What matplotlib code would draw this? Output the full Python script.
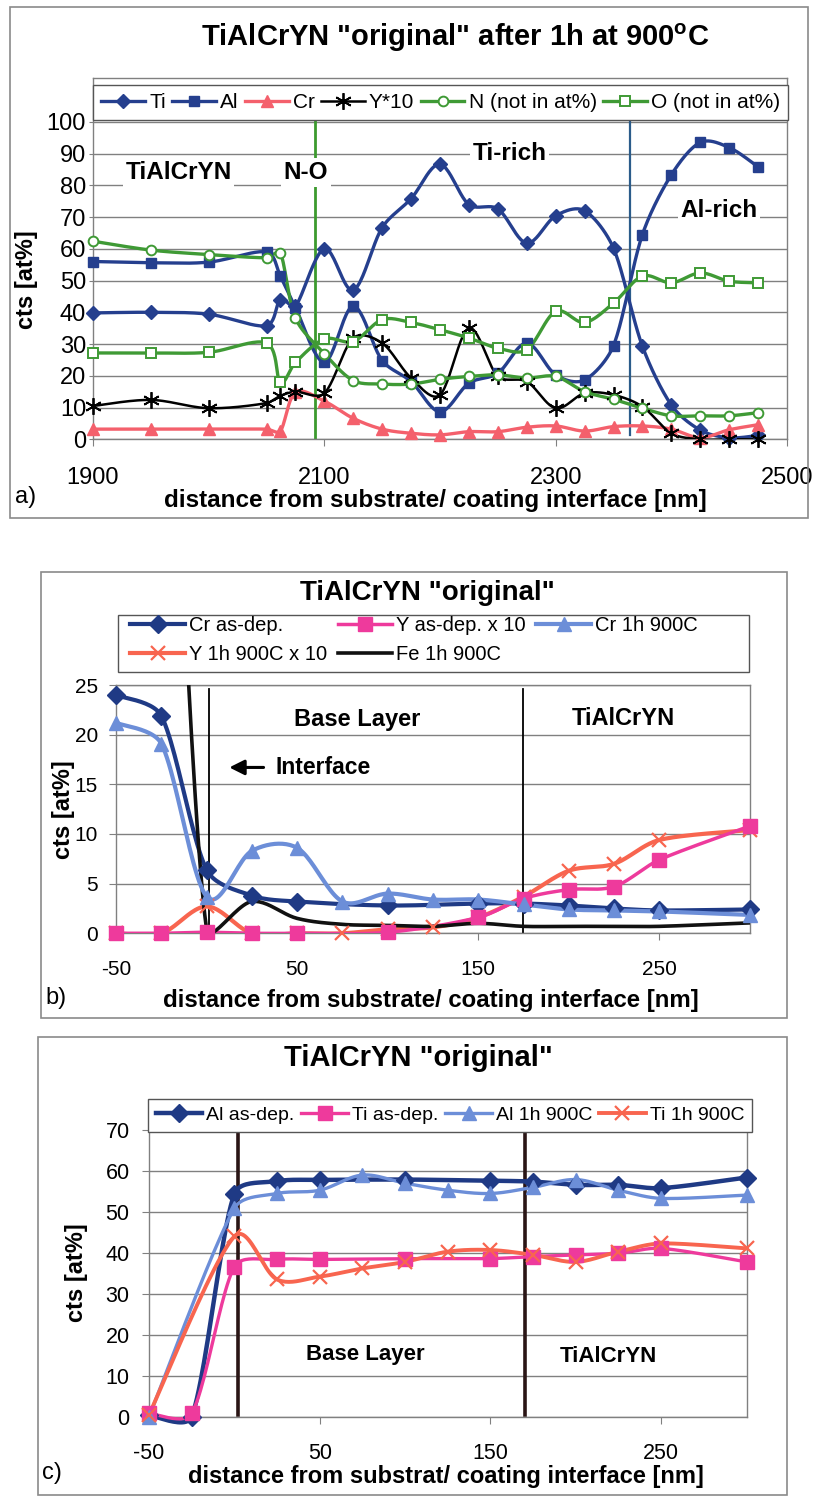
import numpy as np
import matplotlib
matplotlib.use("Agg")
import matplotlib.pyplot as plt
from matplotlib.lines import Line2D
from matplotlib.patches import Rectangle

plt.rcParams['font.family'] = ['Liberation Sans', 'DejaVu Sans']
plt.rcParams['axes.unicode_minus'] = False

# ---- panel a: after 1h at 900C ----
xa = [1900, 1950, 2000, 2050, 2062, 2075, 2100, 2125, 2150, 2175, 2200, 2225,
      2250, 2275, 2300, 2325, 2350, 2375, 2400, 2425, 2450, 2475]
ti_a = [39.8, 40.0, 39.4, 35.8, 44.0, 41.9, 60.0, 47.0, 66.7, 75.8, 86.6, 73.9,
        72.6, 61.8, 70.4, 72.0, 60.2, 29.3, 10.8, 2.9, 0.5, 1.2]
al_a = [56.0, 55.6, 55.8, 59.0, 51.4, 41.5, 24.3, 41.9, 24.8, 18.2, 8.7, 17.7,
        20.8, 30.3, 20.3, 18.7, 29.5, 64.5, 83.3, 93.5, 91.9, 85.8]
cr_a = [3.2, 3.2, 3.2, 3.2, 2.6, 14.8, 12.0, 6.6, 3.2, 1.9, 1.4, 2.4,
        2.4, 3.8, 4.2, 2.6, 4.0, 4.2, 3.2, 0.5, 3.0, 4.6]
y10_a = [10.5, 12.4, 9.8, 11.4, 13.7, 15.0, 14.5, 31.9, 30.3, 19.3, 14.0, 35.0,
         19.8, 18.2, 9.8, 14.5, 14.0, 10.3, 1.9, 0.0, 0.0, 0.0]
n_a = [62.4, 59.6, 58.2, 57.2, 58.7, 38.2, 27.0, 18.5, 17.4, 17.4, 18.9, 19.8,
       20.3, 19.3, 19.8, 15.0, 12.6, 9.8, 7.4, 7.4, 7.4, 8.4]
o_a = [27.2, 27.2, 27.4, 30.3, 17.9, 24.2, 31.6, 30.8, 37.7, 36.8, 34.5, 31.9,
       28.7, 28.2, 40.3, 36.8, 42.9, 51.4, 49.3, 52.4, 49.8, 49.3]
lines_a = [2092, 2364]

# ---- panel b: Cr / Y / Fe ----
xb_dep = [-50, -25, 0, 25, 50, 100, 150, 175, 200, 225, 250, 300]
cr_dep_b = [24.0, 21.9, 6.4, 3.8, 3.2, 2.8, 3.0, 3.0, 2.8, 2.5, 2.3, 2.4]
y_dep_b = [0.0, 0.0, 0.1, 0.0, 0.0, 0.1, 1.6, 3.5, 4.4, 4.7, 7.4, 10.8]
xb_h = [-50, -25, 0, 25, 50, 75, 100, 125, 150, 175, 200, 225, 250, 300]
cr_h_b = [21.2, 19.1, 3.7, 8.3, 8.6, 3.2, 4.0, 3.4, 3.4, 2.9, 2.4, 2.3, 2.2, 1.85]
y_h_b = [0.0, 0.0, 2.7, 0.0, 0.0, 0.0, 0.4, 0.6, 1.6, 3.7, 6.3, 7.0, 9.4, 10.4]
fe_h_b = [75.0, 68.0, 0.4, 3.2, 1.5, 0.9, 0.8, 0.7, 1.0, 0.7, 0.7, 0.7, 0.7, 1.05]
lines_b = [1.5, 174.5]

# ---- panel c: Al / Ti ----
xc_dep = [-50, -25, 0, 25, 50, 100, 150, 175, 200, 225, 250, 300]
al_dep_c = [0.3, 0.0, 54.4, 57.5, 57.8, 57.9, 57.6, 57.4, 56.6, 56.6, 55.8, 58.4]
ti_dep_c = [0.8, 0.8, 36.6, 38.4, 38.4, 38.6, 38.6, 39.1, 39.5, 39.9, 41.1, 37.8]
xc_h = [-50, 0, 25, 50, 75, 100, 125, 150, 175, 200, 225, 250, 300]
al_h_c = [0.0, 50.9, 54.5, 55.3, 59.0, 57.0, 55.3, 54.5, 56.0, 57.9, 55.3, 53.3, 54.1]
ti_h_c = [0.5, 44.0, 33.5, 34.2, 36.2, 37.8, 40.3, 40.7, 39.5, 37.8, 40.3, 42.3, 41.1]
lines_c = [2, 170.5]

W, H = 813, 1497
NAVY_A, RED_A, GREEN = '#253F8E', '#F4606C', '#3F9A35'
NAVY, MAGENTA, LBLUE, SALMON = '#1F3A85', '#EE3A9C', '#6C8ED8', '#F8654F'
GRID = '#808080'


def smooth(ax, x, y, n=24):
    # Excel-like smoothed line, done in pixel space, tangents limited by chord length
    p = ax.transData.transform(np.column_stack([x, y]).astype(float))
    p = np.vstack([p[0], p, p[-1]])
    t = np.linspace(0, 1, n, endpoint=False)[:, None]
    out = []
    for i in range(1, len(p) - 2):
        p0, p1, p2, p3 = p[i - 1], p[i], p[i + 1], p[i + 2]
        d = np.hypot(*(p2 - p1))
        h1 = np.hypot(*(p2 - p0)) / 2
        h2 = np.hypot(*(p3 - p1)) / 2
        s1 = min(1.0, d / h1) if h1 > 0 else 0
        s2 = min(1.0, d / h2) if h2 > 0 else 0
        c1 = p1 + (p2 - p0) / 6 * s1
        c2 = p2 - (p3 - p1) / 6 * s2
        out.append((1 - t) ** 3 * p1 + 3 * (1 - t) ** 2 * t * c1
                   + 3 * (1 - t) * t ** 2 * c2 + t ** 3 * p2)
    out.append(p[-2][None])
    s = ax.transData.inverted().transform(np.vstack(out))
    return s[:, 0], s[:, 1]


def series(ax, x, y, color, marker, ms, lw, label, mfc=None, mew=1.0, clip=True):
    sx, sy = smooth(ax, x, y)
    ax.plot(sx, sy, color=color, lw=lw, clip_on=clip, zorder=3)
    if marker:
        ax.plot(x, y, ls='none', marker=marker, ms=ms, color=color,
                mfc=mfc or color, mew=mew, clip_on=False, zorder=4)
    return Line2D([], [], color=color, lw=lw, marker=marker, ms=ms,
                  mfc=mfc or color, mew=mew, label=label)


def rect(l, t, r, b):
    return [l / W, 1 - b / H, (r - l) / W, (b - t) / H]


def style(ax, fs, xpad, ypad, ylen=5):
    for s in ax.spines.values():
        s.set_color(GRID)
        s.set_linewidth(1)
    ax.grid(axis='y', color=GRID, lw=1)
    ax.set_axisbelow(True)
    ax.tick_params(labelsize=fs, length=5, color=GRID)
    ax.tick_params(axis='x', pad=xpad)
    ax.tick_params(axis='y', pad=ypad, length=ylen)


def frame(fig, l, t, r, b):
    fig.add_artist(Rectangle((l / W, 1 - b / H), (r - l) / W, (b - t) / H,
                             transform=fig.transFigure, fill=False,
                             ec='#8a8a8a', lw=1.2))


fig = plt.figure(figsize=(W / 100, H / 100), dpi=100)

# ======== panel a ========
frame(fig, 10, 7, 808, 518)
ax = fig.add_axes(rect(93, 78, 787, 439.3))
ax.set_xlim(1900, 2500)
ax.set_ylim(0, 113.8)
style(ax, 17, 15, 2, ylen=3)
ax.set_yticks(range(0, 101, 10))
ax.set_xticks([1900, 2100, 2300, 2500])
h = [series(ax, xa, ti_a, NAVY_A, 'D', 7.5, 2.4, 'Ti'),
     series(ax, xa, al_a, NAVY_A, 's', 7.5, 2.4, 'Al'),
     series(ax, xa, cr_a, RED_A, '^', 8, 2.4, 'Cr'),
     series(ax, xa, y10_a, 'black', (6, 2, 0), 12, 1.8, 'Y*10', mew=1.3),
     series(ax, xa, n_a, GREEN, 'o', 7, 2.4, 'N (not in at%)', mfc='white', mew=1.4),
     series(ax, xa, o_a, GREEN, 's', 7, 2.4, 'O (not in at%)', mfc='white', mew=1.4)]
ax.plot([lines_a[0]] * 2, [0.5, 100.5], color='#3C9A2E', lw=2, zorder=2)
ax.plot([lines_a[1]] * 2, [1.5, 100.5], color='#2B5C8A', lw=1.6, zorder=2)
box = dict(fc='white', ec='none', pad=2)
for s, x, y in [('TiAlCrYN', 1974, 84), ('N-O', 2084, 84),
                ('Ti-rich', 2260, 90), ('Al-rich', 2441, 72)]:
    ax.text(x, y, s, ha='center', va='center', fontsize=17.5, weight='bold',
            bbox=box, zorder=2.5)
ax.legend(handles=h, loc='lower left', bbox_to_anchor=(0, 0.883, 1.002, 0.117),
          mode='expand', ncol=6, fontsize=15, handlelength=2.1,
          handletextpad=0.2, columnspacing=0.4, borderaxespad=0,
          borderpad=0.4, fancybox=False, edgecolor='#555555', framealpha=1)
fig.text(455 / W, 1 - 38 / H, 'TiAlCrYN "original" after 1h at 900$^{\\mathregular{o}}$C',
         ha='center', va='center', fontsize=21, weight='bold')
fig.text(435 / W, 1 - 500 / H, 'distance from substrate/ coating interface [nm]',
         ha='center', va='center', fontsize=17.5, weight='bold')
fig.text(27 / W, 1 - 280 / H, 'cts [at%]', rotation=90, ha='center',
         va='center', fontsize=17, weight='bold')
fig.text(15 / W, 1 - 497 / H, 'a)', ha='left', va='center', fontsize=17)

# ======== panel b ========
frame(fig, 41, 572, 787, 1018)
ax = fig.add_axes(rect(116, 685, 750, 933.3))
ax.set_xlim(-50, 300)
ax.set_ylim(0, 25)
style(ax, 15, 14, 8)
ax.set_yticks(range(0, 26, 5))
ax.set_xticks([-50, 50, 150, 250])
h = [series(ax, xb_dep, cr_dep_b, NAVY, 'D', 9, 3, 'Cr as-dep.'),
     series(ax, xb_h, y_h_b, SALMON, 'x', 10, 3, 'Y 1h 900C x 10', mew=1.6),
     series(ax, xb_dep, y_dep_b, MAGENTA, 's', 10, 2.5, 'Y as-dep. x 10'),
     series(ax, xb_h, fe_h_b, '#111111', None, 0, 2.6, 'Fe 1h 900C'),
     series(ax, xb_h, cr_h_b, LBLUE, '^', 10, 3, 'Cr 1h 900C')]
for xv in lines_b:
    ax.plot([xv, xv], [0, 24.6], color='black', lw=1.3, zorder=2)
ax.text(83, 21.5, 'Base Layer', ha='center', va='center', fontsize=17, weight='bold')
ax.text(230, 21.6, 'TiAlCrYN', ha='center', va='center', fontsize=17, weight='bold')
ax.annotate('', xy=(11, 16.7), xytext=(33, 16.7),
            arrowprops=dict(arrowstyle='-|>,head_length=0.9,head_width=0.45',
                            color='black', lw=2.2))
ax.text(38, 16.7, 'Interface', ha='left', va='center', fontsize=16.5, weight='bold')
ax.add_patch(Rectangle((0.003, 1.052), 0.995, 0.23, transform=ax.transAxes,
                       fc='white', ec='#555555', lw=1, clip_on=False, zorder=4.9))
ax.legend(handles=h, loc='lower left', bbox_to_anchor=(0.01, 1.052, 0.92, 0.23),
          mode='expand', ncol=3, fontsize=14.5, handlelength=2.7,
          handletextpad=0.2, columnspacing=0.5, borderaxespad=0,
          frameon=False)
fig.text(427 / W, 1 - 593 / H, 'TiAlCrYN "original"', ha='center', va='center',
         fontsize=20, weight='bold')
fig.text(431 / W, 1 - 1000 / H, 'distance from substrate/ coating interface [nm]',
         ha='center', va='center', fontsize=17.3, weight='bold')
fig.text(63 / W, 1 - 810 / H, 'cts [at%]', rotation=90, ha='center',
         va='center', fontsize=17, weight='bold')
fig.text(45 / W, 1 - 998 / H, 'b)', ha='left', va='center', fontsize=17)

# ======== panel c ========
frame(fig, 38, 1037, 787, 1495)
ax = fig.add_axes(rect(149, 1130, 746.5, 1416.7))
ax.set_xlim(-50, 300)
ax.set_ylim(0, 70)
style(ax, 15.5, 14, 9)
ax.set_yticks(range(0, 71, 10))
ax.set_xticks([-50, 50, 150, 250])
h = [series(ax, xc_dep, al_dep_c, NAVY, 'D', 9, 3.2, 'Al as-dep.', clip=False),
     series(ax, xc_dep, ti_dep_c, MAGENTA, 's', 10, 2.4, 'Ti as-dep.', clip=False),
     series(ax, xc_h, al_h_c, LBLUE, '^', 10, 2.4, 'Al 1h 900C', clip=False),
     series(ax, xc_h, ti_h_c, SALMON, 'x', 10, 2.8, 'Ti 1h 900C', mew=1.6, clip=False)]
for xv in lines_c:
    ax.plot([xv, xv], [0.5, 70], color='#2A1515', lw=2.6, zorder=2)
ax.text(77, 15.1, 'Base Layer', ha='center', va='center', fontsize=16, weight='bold')
ax.text(219, 14.8, 'TiAlCrYN', ha='center', va='center', fontsize=16, weight='bold')
ax.legend(handles=h, loc='lower left', bbox_to_anchor=(-0.002, 0.993, 1.011, 0.122),
          mode='expand', ncol=4, fontsize=14, handlelength=2.4,
          handletextpad=0.2, columnspacing=0.4, borderaxespad=0,
          fancybox=False, edgecolor='#555555', framealpha=1)
fig.text(418 / W, 1 - 1058 / H, 'TiAlCrYN "original"', ha='center', va='center',
         fontsize=21, weight='bold')
fig.text(446 / W, 1 - 1477 / H, 'distance from substrat/ coating interface [nm]',
         ha='center', va='center', fontsize=17, weight='bold')
fig.text(76 / W, 1 - 1273 / H, 'cts [at%]', rotation=90, ha='center',
         va='center', fontsize=17, weight='bold')
fig.text(42 / W, 1 - 1473 / H, 'c)', ha='left', va='center', fontsize=17)

fig.savefig('out.png', dpi=100)
